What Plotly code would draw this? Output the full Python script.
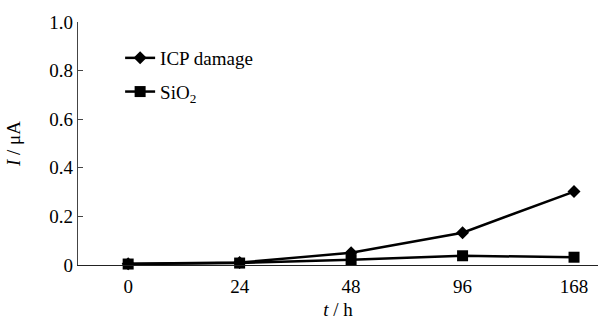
import plotly.graph_objects as go

time_labels = ["0", "24", "48", "96", "168"]
icp_damage = [0.005, 0.01, 0.05, 0.133, 0.302]
sio2 = [0.004, 0.008, 0.022, 0.038, 0.032]
y_tick_vals = [0, 0.2, 0.4, 0.6, 0.8, 1.0]
y_tick_text = ["0", "0.2", "0.4", "0.6", "0.8", "1.0"]

SERIF = "Liberation Serif, Times New Roman, Times, serif"

fig = go.Figure()
fig.add_trace(go.Scatter(
    x=time_labels, y=icp_damage, name="ICP damage", mode="lines+markers",
    line=dict(color="black", width=2.5),
    marker=dict(symbol="diamond", size=10, color="black"),
    cliponaxis=False, legendgroup="a"))
fig.add_trace(go.Scatter(
    x=time_labels, y=sio2, name="SiO<sub>2</sub>", mode="lines+markers",
    line=dict(color="black", width=2.5),
    marker=dict(symbol="square", size=11, color="black"),
    cliponaxis=False, legendgroup="b"))

fig.update_layout(
    width=599, height=320,
    margin=dict(l=78, r=1, t=22, b=55),
    plot_bgcolor="white", paper_bgcolor="white",
    font=dict(family=SERIF, size=19, color="black"),
    showlegend=True,
    legend=dict(x=0.081, y=0.93, xanchor="left", yanchor="top",
                bgcolor="rgba(0,0,0,0)", tracegroupgap=6,
                font=dict(family=SERIF, size=19)),
    xaxis=dict(type="category", range=[-0.45, 4.215], showline=True,
               linecolor="#222", linewidth=1.2, ticks="", showgrid=False,
               zeroline=False, tickfont=dict(family=SERIF, size=19),
               ticklabelstandoff=4,
               title=dict(text="<i>t</i> / h", standoff=8,
                          font=dict(family=SERIF, size=19))),
    yaxis=dict(range=[0, 1.0], tickvals=y_tick_vals, ticktext=y_tick_text,
               showline=True, linecolor="#444", linewidth=1.2,
               ticks="inside", ticklen=5, tickcolor="#444",
               showgrid=False, zeroline=False,
               tickfont=dict(family=SERIF, size=19),
               title=dict(text="<i>I</i> / μA", standoff=23,
                          font=dict(family=SERIF, size=19))),
)

fig.write_html("out.html", config={"displayModeBar": False},
               post_script="document.body.style.margin='0px';")
